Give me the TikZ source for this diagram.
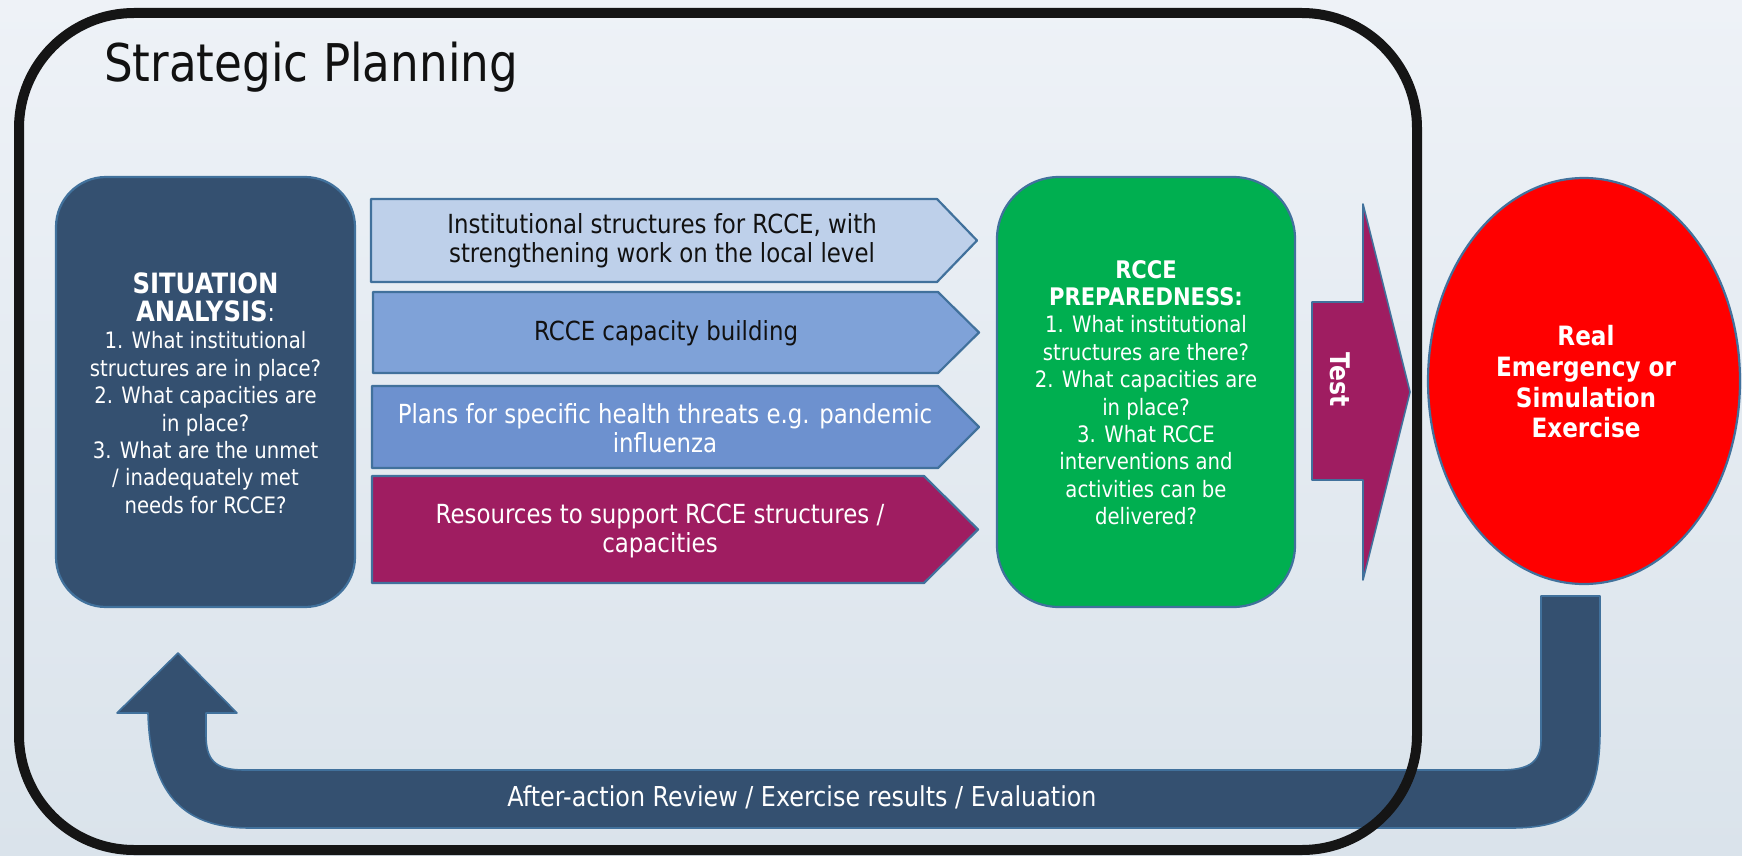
\documentclass[tikz,border=0pt]{standalone}
\usepackage{fontspec}
\setmainfont{DejaVu Sans}[FakeStretch=0.87]
\usetikzlibrary{shapes.geometric}
\definecolor{bgtop}{HTML}{EEF2F7}
\definecolor{bgbot}{HTML}{DAE3EB}
\definecolor{framec}{HTML}{151515}
\definecolor{navy}{HTML}{345070}
\definecolor{edgec}{HTML}{41719C}
\definecolor{lbA}{HTML}{BED0EA}
\definecolor{lbB}{HTML}{7FA2D8}
\definecolor{lbC}{HTML}{6D91CF}
\definecolor{plum}{HTML}{9F1D61}
\definecolor{grn}{HTML}{00AF50}
\definecolor{rd}{HTML}{FF0000}
\definecolor{ink}{HTML}{111111}
\begin{document}
\begin{tikzpicture}[x=1pt,y=-1pt,
  shapeedge/.style={draw=edgec,line width=2.2pt,line join=round},
  bodytxt/.style={align=center,font=\fontsize{22.6}{27.4}\selectfont,inner sep=0pt},
  chevtxt/.style={align=center,font=\fontsize{26.3}{29}\selectfont,inner sep=0pt},
  boldtxt/.style={align=center,font=\fontsize{26.6}{30.7}\selectfont\bfseries,inner sep=0pt,text=white},
]
\useasboundingbox (0,0) rectangle (1742,856);
\shade[top color=bgtop,bottom color=bgbot] (0,0) rectangle (1742,856);

% feedback band
\coordinate (fbR) at (1541,596);
\coordinate (fbTip) at (178,653);
\fill[navy] (fbR) -- (1541,740) .. controls (1541,765) and (1525,770) .. (1500,770)
  -- (244,770) .. controls (215,770) and (206,760) .. (206,735)
  -- (206,713) -- (237,713) -- (fbTip) -- (117,713) -- (148,713)
  .. controls (150,790) and (180,828) .. (250,828)
  -- (1511,828) .. controls (1580,828) and (1600,800) .. (1600,730)
  -- (1600,596) -- cycle;
\draw[shapeedge,line width=1.6pt] (fbR) -- (1541,740) .. controls (1541,765) and (1525,770) .. (1500,770)
  -- (244,770) .. controls (215,770) and (206,760) .. (206,735)
  -- (206,713) -- (237,713) -- (fbTip) -- (117,713) -- (148,713)
  .. controls (150,790) and (180,828) .. (250,828)
  -- (1511,828) .. controls (1580,828) and (1600,800) .. (1600,730)
  -- (1600,596) -- cycle;
\node[bodytxt,text=white,font=\fontsize{27.4}{30}\selectfont] (fbtext) at (802,797) {After-action Review / Exercise results / Evaluation};

% outer frame
\draw[framec,line width=10pt,rounded corners=115pt] (19,13) rectangle (1417,850);
\node[anchor=base west,inner sep=0pt,text=ink,font=\fontsize{52}{60}\selectfont] (title) at (104,82) {Strategic Planning};

% situation analysis
\node[shapeedge,fill=navy,rounded corners=50pt,minimum width=299pt,minimum height=430pt] (sa) at (205.5,392) {};
\node[bodytxt,text=white] (satext) at (205.5,393) {{\fontsize{28}{30}\selectfont\bfseries SITUATION}\\[1pt]{\fontsize{28}{30}\selectfont\bfseries ANALYSIS}{\fontsize{25}{30}\selectfont :}\\
1. What institutional\\structures are in place?\\2. What capacities are\\in place?\\3. What are the unmet\\/ inadequately met\\needs for RCCE?};

% chevrons
\draw[shapeedge,fill=lbA] (371,199) -- (937,199) -- (977,240.5) -- (937,282) -- (371,282) -- cycle;
\draw[shapeedge,fill=lbB] (373,292) -- (938,292) -- (979,332.5) -- (938,373) -- (373,373) -- cycle;
\draw[shapeedge,fill=lbC] (372,386) -- (938,386) -- (979,427) -- (938,468) -- (372,468) -- cycle;
\draw[shapeedge,fill=plum] (372,476) -- (924,476) -- (978,529.5) -- (924,583) -- (372,583) -- cycle;
\node[chevtxt,text=ink] (c1) at (662,241) {Institutional structures for RCCE, with\\strengthening work on the local level};
\node[chevtxt,text=ink] (c2) at (666,333) {RCCE capacity building};
\node[chevtxt,text=white] (c3) at (665,428) {Plans for specific health threats e.g. pandemic\\influenza};
\node[chevtxt,text=white] (c4) at (660,531) {Resources to support RCCE structures /\\capacities};

% preparedness
\node[shapeedge,fill=grn,rounded corners=62pt,minimum width=298pt,minimum height=430pt] (rp) at (1146,392) {};
\node[bodytxt,text=white] (rptext) at (1146,392.5) {{\fontsize{24.2}{27.4}\selectfont\bfseries RCCE}\\{\fontsize{24.2}{27.4}\selectfont\bfseries PREPAREDNESS:}\\
1. What institutional\\structures are there?\\2. What capacities are\\in place?\\3. What RCCE\\interventions and\\activities can be\\delivered?};

% test arrow
\draw[shapeedge,fill=plum,line width=1.6pt] (1312,302) -- (1363,302) -- (1363,204) -- (1410,392) -- (1363,580) -- (1363,480) -- (1312,480) -- cycle;
\node[boldtxt,rotate=-90,font=\fontsize{27}{30}\selectfont\bfseries] (test) at (1340,380) {Test};

% real emergency
\node[shapeedge,ellipse,fill=rd,minimum width=312pt,minimum height=406pt,inner sep=0pt] (re) at (1584,381) {};
\node[boldtxt] (retext) at (1586,382) {Real\\Emergency or\\Simulation\\Exercise};
\end{tikzpicture}
\end{document}
